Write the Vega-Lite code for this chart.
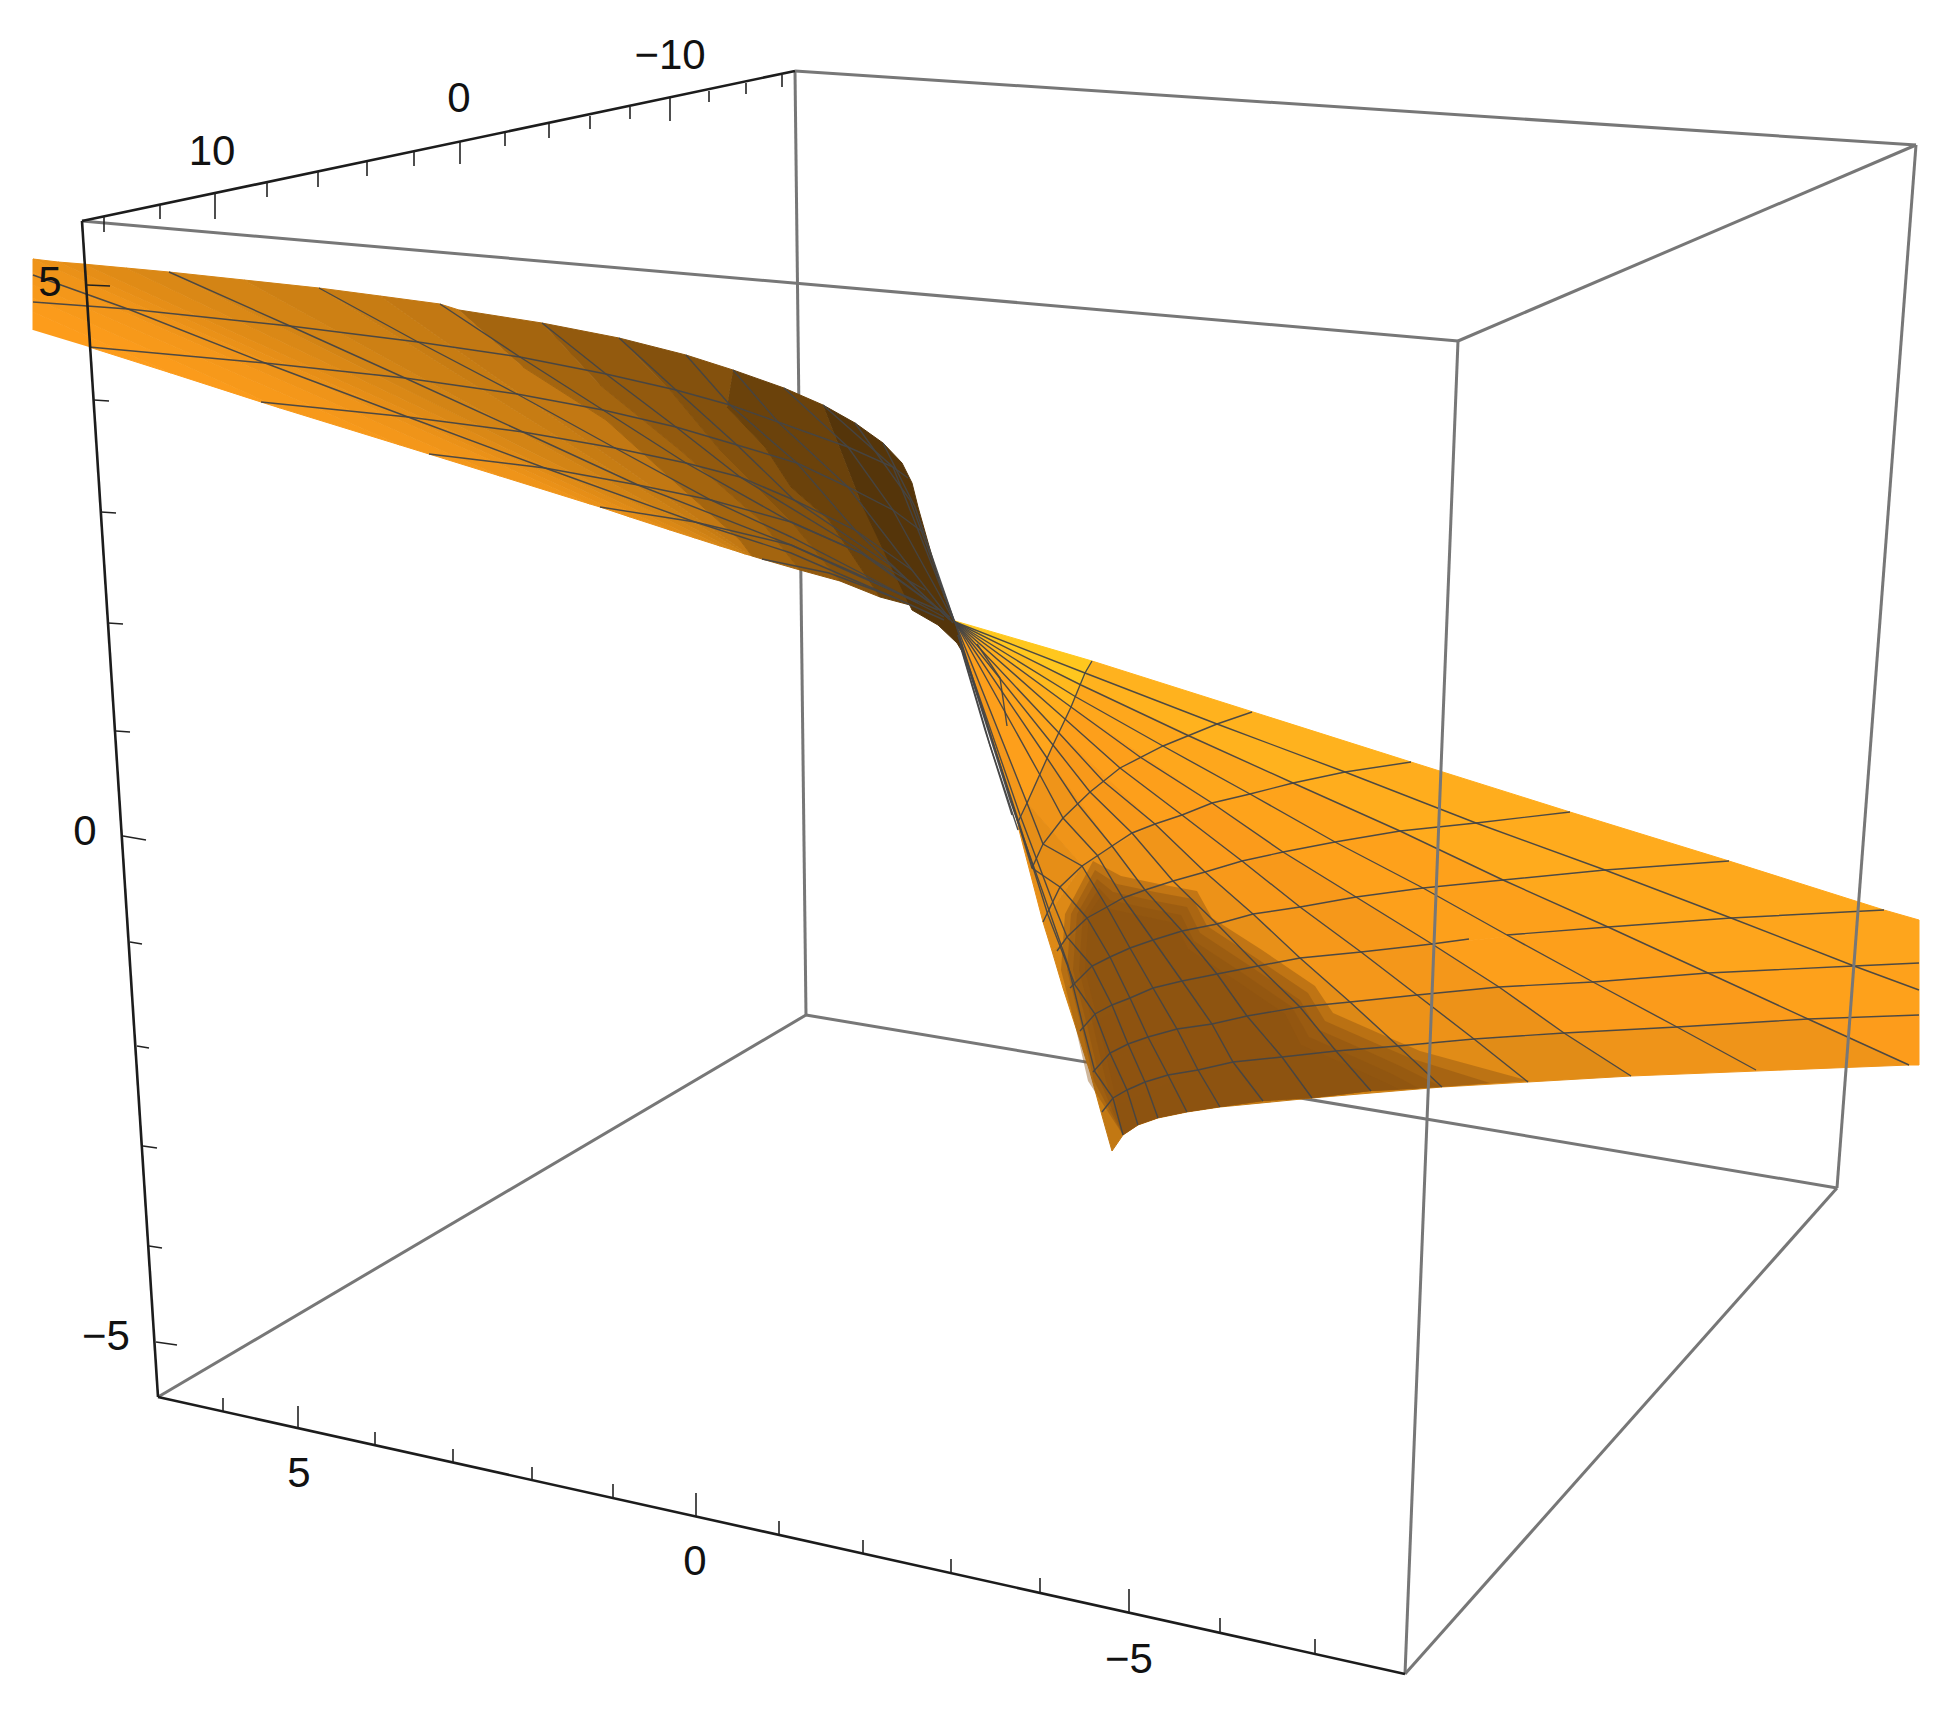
{"$schema":"https://vega.github.io/schema/vega-lite/v6.json","width":1956,"height":1716,"padding":0,"autosize":{"type":"fit","contains":"padding"},"background":"white","config":{"view":{"stroke":null}},
"datasets":{
"box":[{"g":"back","h":795,"v":71,"h2":806,"v2":1015},{"g":"back","h":806,"v":1015,"h2":1837,"v2":1188},{"g":"back","h":806,"v":1015,"h2":158,"v2":1397},
{"g":"front","h":795,"v":71,"h2":1916,"v2":145},{"g":"front","h":1916,"v":145,"h2":1458,"v2":341},{"g":"front","h":1458,"v":341,"h2":82,"v2":221},{"g":"front","h":1458,"v":341,"h2":1405,"v2":1674},{"g":"front","h":1916,"v":145,"h2":1837,"v2":1188},{"g":"front","h":1837,"v":1188,"h2":1405,"v2":1674}],
"axes":[{"h":82,"v":221,"h2":795,"v2":71},{"h":82,"v":221,"h2":158,"v2":1397},{"h":158,"v":1397,"h2":1405,"v2":1674}],
"ticks":[{"h":104,"v":217,"h2":104,"v2":232},{"h":160,"v":205,"h2":160,"v2":219},{"h":215,"v":193,"h2":215,"v2":219},{"h":267,"v":182,"h2":267,"v2":197},{"h":318,"v":172,"h2":318,"v2":187},{"h":367,"v":162,"h2":367,"v2":176},{"h":414,"v":152,"h2":414,"v2":166},{"h":460,"v":142,"h2":460,"v2":164},{"h":505,"v":133,"h2":505,"v2":146},{"h":549,"v":124,"h2":549,"v2":138},{"h":590,"v":116,"h2":590,"v2":129},{"h":630,"v":107,"h2":630,"v2":119},{"h":670,"v":98,"h2":670,"v2":121},{"h":709,"v":91,"h2":709,"v2":102},{"h":746,"v":83,"h2":746,"v2":94},{"h":782,"v":75,"h2":782,"v2":87},
{"h":87,"v":285,"h2":110,"v2":286},{"h":94,"v":400,"h2":109,"v2":401},{"h":101,"v":512,"h2":116,"v2":513},{"h":108,"v":623,"h2":123,"v2":624},{"h":116,"v":731,"h2":130,"v2":732},{"h":123,"v":836,"h2":146,"v2":840},{"h":130,"v":942,"h2":142,"v2":944},{"h":137,"v":1046,"h2":149,"v2":1048},{"h":143,"v":1146,"h2":157,"v2":1148},{"h":149,"v":1246,"h2":162,"v2":1248},{"h":156,"v":1342,"h2":177,"v2":1345},
{"h":223,"v":1411,"h2":223,"v2":1398},{"h":298,"v":1428,"h2":298,"v2":1406},{"h":375,"v":1444,"h2":375,"v2":1432},{"h":453,"v":1462,"h2":453,"v2":1449},{"h":532,"v":1480,"h2":532,"v2":1467},{"h":613,"v":1498,"h2":613,"v2":1484},{"h":696,"v":1516,"h2":696,"v2":1493},{"h":779,"v":1534,"h2":779,"v2":1521},{"h":863,"v":1553,"h2":863,"v2":1540},{"h":951,"v":1573,"h2":951,"v2":1559},{"h":1040,"v":1592,"h2":1040,"v2":1578},{"h":1129,"v":1612,"h2":1129,"v2":1589},{"h":1220,"v":1633,"h2":1220,"v2":1618},{"h":1315,"v":1654,"h2":1315,"v2":1639}],
"labels":[{"t":"10","h":212,"v":152},{"t":"0","h":459,"v":99},{"t":"−10","h":670,"v":56},{"t":"5","h":50,"v":283},{"t":"0","h":85,"v":832},{"t":"−5","h":106,"v":1337},{"t":"5","h":299,"v":1474},{"t":"0","h":695,"v":1562},{"t":"−5","h":1129,"v":1660}],
"shadow":[
{"p":"d","o":1,"h":1093,"v":861},{"p":"d","o":2,"h":1121,"v":876},{"p":"d","o":3,"h":1159,"v":884},{"p":"d","o":4,"h":1197,"v":891},{"p":"d","o":5,"h":1212,"v":918},{"p":"d","o":6,"h":1262,"v":950},{"p":"d","o":7,"h":1315,"v":986},{"p":"d","o":8,"h":1333,"v":1013},{"p":"d","o":9,"h":1383,"v":1035},{"p":"d","o":10,"h":1420,"v":1051},{"p":"d","o":11,"h":1530,"v":1081},{"p":"d","o":12,"h":1442,"v":1087},{"p":"d","o":13,"h":1371,"v":1091},{"p":"d","o":14,"h":1313,"v":1098},{"p":"d","o":15,"h":1263,"v":1101},{"p":"d","o":16,"h":1220,"v":1107},{"p":"d","o":17,"h":1187,"v":1112},{"p":"d","o":18,"h":1158,"v":1118},{"p":"d","o":19,"h":1138,"v":1125},{"p":"d","o":20,"h":1123,"v":1135},{"p":"d","o":21,"h":1088,"v":1081},{"p":"d","o":22,"h":1075,"v":1025},{"p":"d","o":23,"h":1061,"v":970},{"p":"d","o":24,"h":1065,"v":914},
{"p":"a","o":1,"h":1095,"v":870},{"p":"a","o":2,"h":1117,"v":884},{"p":"a","o":3,"h":1155,"v":892},{"p":"a","o":4,"h":1193,"v":899},{"p":"a","o":5,"h":1207,"v":926},{"p":"a","o":6,"h":1256,"v":958},{"p":"a","o":7,"h":1308,"v":993},{"p":"a","o":8,"h":1325,"v":1021},{"p":"a","o":9,"h":1375,"v":1043},{"p":"a","o":10,"h":1410,"v":1058},{"p":"a","o":11,"h":1490,"v":1083},{"p":"a","o":12,"h":1442,"v":1087},{"p":"a","o":13,"h":1371,"v":1091},{"p":"a","o":14,"h":1313,"v":1098},{"p":"a","o":15,"h":1263,"v":1101},{"p":"a","o":16,"h":1220,"v":1107},{"p":"a","o":17,"h":1187,"v":1112},{"p":"a","o":18,"h":1158,"v":1118},{"p":"a","o":19,"h":1138,"v":1125},{"p":"a","o":20,"h":1123,"v":1135},{"p":"a","o":21,"h":1094,"v":1081},{"p":"a","o":22,"h":1081,"v":1025},{"p":"a","o":23,"h":1067,"v":970},{"p":"a","o":24,"h":1071,"v":914},
{"p":"b","o":1,"h":1097,"v":879},{"p":"b","o":2,"h":1113,"v":892},{"p":"b","o":3,"h":1150,"v":900},{"p":"b","o":4,"h":1187,"v":907},{"p":"b","o":5,"h":1200,"v":933},{"p":"b","o":6,"h":1250,"v":966},{"p":"b","o":7,"h":1300,"v":1000},{"p":"b","o":8,"h":1317,"v":1029},{"p":"b","o":9,"h":1367,"v":1051},{"p":"b","o":10,"h":1400,"v":1066},{"p":"b","o":11,"h":1442,"v":1087},{"p":"b","o":12,"h":1371,"v":1091},{"p":"b","o":13,"h":1313,"v":1098},{"p":"b","o":14,"h":1263,"v":1101},{"p":"b","o":15,"h":1220,"v":1107},{"p":"b","o":16,"h":1187,"v":1112},{"p":"b","o":17,"h":1158,"v":1118},{"p":"b","o":18,"h":1138,"v":1125},{"p":"b","o":19,"h":1123,"v":1135},{"p":"b","o":20,"h":1100,"v":1081},{"p":"b","o":21,"h":1087,"v":1025},{"p":"b","o":22,"h":1073,"v":970},{"p":"b","o":23,"h":1077,"v":914},
{"p":"c","o":1,"h":1099,"v":888},{"p":"c","o":2,"h":1110,"v":900},{"p":"c","o":3,"h":1146,"v":908},{"p":"c","o":4,"h":1181,"v":915},{"p":"c","o":5,"h":1194,"v":941},{"p":"c","o":6,"h":1244,"v":974},{"p":"c","o":7,"h":1292,"v":1007},{"p":"c","o":8,"h":1309,"v":1037},{"p":"c","o":9,"h":1359,"v":1059},{"p":"c","o":10,"h":1392,"v":1074},{"p":"c","o":11,"h":1420,"v":1089},{"p":"c","o":12,"h":1371,"v":1091},{"p":"c","o":13,"h":1313,"v":1098},{"p":"c","o":14,"h":1263,"v":1101},{"p":"c","o":15,"h":1220,"v":1107},{"p":"c","o":16,"h":1187,"v":1112},{"p":"c","o":17,"h":1158,"v":1118},{"p":"c","o":18,"h":1138,"v":1125},{"p":"c","o":19,"h":1123,"v":1135},{"p":"c","o":20,"h":1106,"v":1081},{"p":"c","o":21,"h":1093,"v":1025},{"p":"c","o":22,"h":1079,"v":970},{"p":"c","o":23,"h":1083,"v":914},
{"p":"e","o":1,"h":1101,"v":896},{"p":"e","o":2,"h":1106,"v":908},{"p":"e","o":3,"h":1142,"v":916},{"p":"e","o":4,"h":1175,"v":923},{"p":"e","o":5,"h":1188,"v":949},{"p":"e","o":6,"h":1238,"v":982},{"p":"e","o":7,"h":1285,"v":1014},{"p":"e","o":8,"h":1301,"v":1045},{"p":"e","o":9,"h":1351,"v":1067},{"p":"e","o":10,"h":1384,"v":1082},{"p":"e","o":11,"h":1400,"v":1090},{"p":"e","o":12,"h":1371,"v":1091},{"p":"e","o":13,"h":1313,"v":1098},{"p":"e","o":14,"h":1263,"v":1101},{"p":"e","o":15,"h":1220,"v":1107},{"p":"e","o":16,"h":1187,"v":1112},{"p":"e","o":17,"h":1158,"v":1118},{"p":"e","o":18,"h":1138,"v":1125},{"p":"e","o":19,"h":1123,"v":1135},{"p":"e","o":20,"h":1112,"v":1081},{"p":"e","o":21,"h":1099,"v":1025},{"p":"e","o":22,"h":1085,"v":970},{"p":"e","o":23,"h":1089,"v":914}],
"surface":[
{"p":"U01","o":1,"h":33,"v":330,"s":1},{"p":"U01","o":2,"h":33,"v":312,"s":1},{"p":"U01","o":3,"h":171,"v":373,"s":1},{"p":"U01","o":4,"h":89,"v":347,"s":1},
{"p":"U02a","o":1,"h":33,"v":312,"s":0.99},{"p":"U02a","o":2,"h":33,"v":298,"s":0.99},{"p":"U02a","o":3,"h":280,"v":408,"s":0.99},{"p":"U02a","o":4,"h":261,"v":402,"s":0.99},{"p":"U02a","o":5,"h":171,"v":373,"s":0.99},
{"p":"U02b","o":1,"h":33,"v":298,"s":0.975},{"p":"U02b","o":2,"h":33,"v":285,"s":0.975},{"p":"U02b","o":3,"h":400,"v":445,"s":0.975},{"p":"U02b","o":4,"h":280,"v":408,"s":0.975},
{"p":"U03a","o":1,"h":33,"v":285,"s":0.96},{"p":"U03a","o":2,"h":33,"v":272,"s":0.96},{"p":"U03a","o":3,"h":500,"v":476,"s":0.96},{"p":"U03a","o":4,"h":429,"v":454,"s":0.96},{"p":"U03a","o":5,"h":400,"v":445,"s":0.96},
{"p":"U03b","o":1,"h":33,"v":272,"s":0.94},{"p":"U03b","o":2,"h":33,"v":259,"s":0.94},{"p":"U03b","o":3,"h":590,"v":504,"s":0.94},{"p":"U03b","o":4,"h":500,"v":476,"s":0.94},
{"p":"U04a","o":1,"h":33,"v":259,"s":0.92},{"p":"U04a","o":2,"h":58,"v":262,"s":0.92},{"p":"U04a","o":3,"h":630,"v":517,"s":0.92},{"p":"U04a","o":4,"h":600,"v":507,"s":0.92},{"p":"U04a","o":5,"h":590,"v":504,"s":0.92},
{"p":"U04b","o":1,"h":58,"v":262,"s":0.9},{"p":"U04b","o":2,"h":83,"v":264,"s":0.9},{"p":"U04b","o":3,"h":670,"v":530,"s":0.9},{"p":"U04b","o":4,"h":630,"v":517,"s":0.9},
{"p":"U05a","o":1,"h":83,"v":264,"s":0.875},{"p":"U05a","o":2,"h":126,"v":268,"s":0.875},{"p":"U05a","o":3,"h":695,"v":538,"s":0.875},{"p":"U05a","o":4,"h":670,"v":530,"s":0.875},
{"p":"U05b","o":1,"h":126,"v":268,"s":0.85},{"p":"U05b","o":2,"h":169,"v":272,"s":0.85},{"p":"U05b","o":3,"h":720,"v":546,"s":0.85},{"p":"U05b","o":4,"h":695,"v":538,"s":0.85},
{"p":"U06a","o":1,"h":169,"v":272,"s":0.82},{"p":"U06a","o":2,"h":244,"v":280,"s":0.82},{"p":"U06a","o":3,"h":733,"v":550,"s":0.82},{"p":"U06a","o":4,"h":720,"v":546,"s":0.82},
{"p":"U06b","o":1,"h":244,"v":280,"s":0.79},{"p":"U06b","o":2,"h":319,"v":288,"s":0.79},{"p":"U06b","o":3,"h":745,"v":554,"s":0.79},{"p":"U06b","o":4,"h":733,"v":550,"s":0.79},
{"p":"U07a","o":1,"h":319,"v":288,"s":0.765},{"p":"U07a","o":2,"h":380,"v":296,"s":0.765},{"p":"U07a","o":3,"h":749,"v":555,"s":0.765},{"p":"U07a","o":4,"h":745,"v":554,"s":0.765},
{"p":"U07b","o":1,"h":380,"v":296,"s":0.74},{"p":"U07b","o":2,"h":440,"v":304,"s":0.74},{"p":"U07b","o":3,"h":459,"v":310,"s":0.74},{"p":"U07b","o":4,"h":523,"v":367,"s":0.74},{"p":"U07b","o":5,"h":606,"v":420,"s":0.74},{"p":"U07b","o":6,"h":676,"v":483,"s":0.74},{"p":"U07b","o":7,"h":740,"v":540,"s":0.74},{"p":"U07b","o":8,"h":752,"v":556,"s":0.74},{"p":"U07b","o":9,"h":749,"v":555,"s":0.74},
{"p":"U08","o":1,"h":459,"v":310,"s":0.6},{"p":"U08","o":2,"h":542,"v":323,"s":0.6},{"p":"U08","o":3,"h":600,"v":385,"s":0.6},{"p":"U08","o":4,"h":680,"v":450,"s":0.6},{"p":"U08","o":5,"h":760,"v":520,"s":0.6},{"p":"U08","o":6,"h":800,"v":570,"s":0.6},{"p":"U08","o":7,"h":762,"v":559,"s":0.6},{"p":"U08","o":8,"h":752,"v":556,"s":0.6},{"p":"U08","o":9,"h":740,"v":540,"s":0.6},{"p":"U08","o":10,"h":676,"v":483,"s":0.6},{"p":"U08","o":11,"h":606,"v":420,"s":0.6},{"p":"U08","o":12,"h":523,"v":367,"s":0.6},
{"p":"U09","o":1,"h":542,"v":323,"s":0.52},{"p":"U09","o":2,"h":619,"v":338,"s":0.52},{"p":"U09","o":3,"h":670,"v":390,"s":0.52},{"p":"U09","o":4,"h":720,"v":450,"s":0.52},{"p":"U09","o":5,"h":790,"v":520,"s":0.52},{"p":"U09","o":6,"h":840,"v":581,"s":0.52},{"p":"U09","o":7,"h":829,"v":578,"s":0.52},{"p":"U09","o":8,"h":800,"v":570,"s":0.52},{"p":"U09","o":9,"h":760,"v":520,"s":0.52},{"p":"U09","o":10,"h":680,"v":450,"s":0.52},{"p":"U09","o":11,"h":600,"v":385,"s":0.52},
{"p":"U10","o":1,"h":619,"v":338,"s":0.45},{"p":"U10","o":2,"h":686,"v":355,"s":0.45},{"p":"U10","o":3,"h":733,"v":370,"s":0.45},{"p":"U10","o":4,"h":727,"v":407,"s":0.45},{"p":"U10","o":5,"h":765,"v":447,"s":0.45},{"p":"U10","o":6,"h":791,"v":487,"s":0.45},{"p":"U10","o":7,"h":829,"v":520,"s":0.45},{"p":"U10","o":8,"h":880,"v":597,"s":0.45},{"p":"U10","o":9,"h":840,"v":581,"s":0.45},{"p":"U10","o":10,"h":790,"v":520,"s":0.45},{"p":"U10","o":11,"h":720,"v":450,"s":0.45},{"p":"U10","o":12,"h":670,"v":390,"s":0.45},
{"p":"U11","o":1,"h":733,"v":370,"s":0.33},{"p":"U11","o":2,"h":784,"v":388,"s":0.33},{"p":"U11","o":3,"h":823,"v":405,"s":0.33},{"p":"U11","o":4,"h":860,"v":500,"s":0.33},{"p":"U11","o":5,"h":910,"v":605,"s":0.33},{"p":"U11","o":6,"h":880,"v":597,"s":0.33},{"p":"U11","o":7,"h":829,"v":520,"s":0.33},{"p":"U11","o":8,"h":791,"v":487,"s":0.33},{"p":"U11","o":9,"h":765,"v":447,"s":0.33},{"p":"U11","o":10,"h":727,"v":407,"s":0.33},
{"p":"U12","o":1,"h":823,"v":405,"s":0.23},{"p":"U12","o":2,"h":855,"v":423,"s":0.23},{"p":"U12","o":3,"h":883,"v":443,"s":0.23},{"p":"U12","o":4,"h":902,"v":463,"s":0.23},{"p":"U12","o":5,"h":912,"v":483,"s":0.23},{"p":"U12","o":6,"h":918,"v":507,"s":0.23},{"p":"U12","o":7,"h":931,"v":553,"s":0.23},{"p":"U12","o":8,"h":944,"v":597,"s":0.23},{"p":"U12","o":9,"h":955,"v":623,"s":0.23},{"p":"U12","o":10,"h":969,"v":663,"s":0.23},{"p":"U12","o":11,"h":957,"v":643,"s":0.23},{"p":"U12","o":12,"h":938,"v":625,"s":0.23},{"p":"U12","o":13,"h":912,"v":610,"s":0.23},{"p":"U12","o":14,"h":860,"v":500,"s":0.23},
{"p":"C0","o":1,"h":955,"v":621,"s":1.26},{"p":"C0","o":2,"h":1092,"v":661,"s":1.26},{"p":"C0","o":3,"h":1081,"v":685,"s":1.26},
{"p":"C1","o":1,"h":955,"v":621,"s":1.19},{"p":"C1","o":2,"h":1081,"v":685,"s":1.19},{"p":"C1","o":3,"h":1071,"v":707,"s":1.19},
{"p":"C2","o":1,"h":955,"v":621,"s":1.13},{"p":"C2","o":2,"h":1071,"v":707,"s":1.13},{"p":"C2","o":3,"h":1059,"v":733,"s":1.13},
{"p":"C3","o":1,"h":955,"v":621,"s":1.07},{"p":"C3","o":2,"h":1059,"v":733,"s":1.07},{"p":"C3","o":3,"h":1047,"v":758,"s":1.07},
{"p":"C4","o":1,"h":955,"v":621,"s":1.02},{"p":"C4","o":2,"h":1047,"v":758,"s":1.02},{"p":"C4","o":3,"h":1027,"v":803,"s":1.02},
{"p":"C5","o":1,"h":955,"v":621,"s":0.96},{"p":"C5","o":2,"h":1027,"v":803,"s":0.96},{"p":"C5","o":3,"h":1018,"v":826,"s":0.96},
{"p":"A0","o":1,"h":1092,"v":661,"s":1.16},{"p":"A0","o":2,"h":1411,"v":762,"s":1.16},{"p":"A0","o":3,"h":1293,"v":783,"s":1.16},{"p":"A0","o":4,"h":1081,"v":685,"s":1.16},
{"p":"A1","o":1,"h":1081,"v":685,"s":1.08},{"p":"A1","o":2,"h":1293,"v":783,"s":1.08},{"p":"A1","o":3,"h":1212,"v":803,"s":1.08},{"p":"A1","o":4,"h":1071,"v":707,"s":1.08},
{"p":"A2","o":1,"h":1071,"v":707,"s":1.02},{"p":"A2","o":2,"h":1212,"v":803,"s":1.02},{"p":"A2","o":3,"h":1155,"v":824,"s":1.02},{"p":"A2","o":4,"h":1059,"v":733,"s":1.02},
{"p":"A3","o":1,"h":1059,"v":733,"s":0.98},{"p":"A3","o":2,"h":1155,"v":824,"s":0.98},{"p":"A3","o":3,"h":1112,"v":846,"s":0.98},{"p":"A3","o":4,"h":1047,"v":758,"s":0.98},
{"p":"A4","o":1,"h":1047,"v":758,"s":0.94},{"p":"A4","o":2,"h":1112,"v":846,"s":0.94},{"p":"A4","o":3,"h":1082,"v":866,"s":0.94},{"p":"A4","o":4,"h":1027,"v":803,"s":0.94},
{"p":"A5","o":1,"h":1027,"v":803,"s":0.9},{"p":"A5","o":2,"h":1082,"v":866,"s":0.9},{"p":"A5","o":3,"h":1043,"v":922,"s":0.9},{"p":"A5","o":4,"h":1018,"v":826,"s":0.9},
{"p":"K0","o":1,"h":1411,"v":762,"s":1.13},{"p":"K0","o":2,"h":1570,"v":812,"s":1.13},{"p":"K0","o":3,"h":1400,"v":831,"s":1.13},{"p":"K0","o":4,"h":1293,"v":783,"s":1.13},
{"p":"K1","o":1,"h":1293,"v":783,"s":1.05},{"p":"K1","o":2,"h":1400,"v":831,"s":1.05},{"p":"K1","o":3,"h":1283,"v":852,"s":1.05},{"p":"K1","o":4,"h":1212,"v":803,"s":1.05},
{"p":"K2","o":1,"h":1212,"v":803,"s":0.99},{"p":"K2","o":2,"h":1283,"v":852,"s":0.99},{"p":"K2","o":3,"h":1205,"v":872,"s":0.99},{"p":"K2","o":4,"h":1155,"v":824,"s":0.99},
{"p":"K3","o":1,"h":1155,"v":824,"s":0.95},{"p":"K3","o":2,"h":1205,"v":872,"s":0.95},{"p":"K3","o":3,"h":1145,"v":890,"s":0.95},{"p":"K3","o":4,"h":1112,"v":846,"s":0.95},
{"p":"K4","o":1,"h":1112,"v":846,"s":0.9},{"p":"K4","o":2,"h":1145,"v":890,"s":0.9},{"p":"K4","o":3,"h":1107,"v":907,"s":0.9},{"p":"K4","o":4,"h":1082,"v":866,"s":0.9},
{"p":"K5","o":1,"h":1082,"v":866,"s":0.86},{"p":"K5","o":2,"h":1107,"v":907,"s":0.86},{"p":"K5","o":3,"h":1052,"v":951,"s":0.86},{"p":"K5","o":4,"h":1043,"v":922,"s":0.86},
{"p":"D0","o":1,"h":1570,"v":812,"s":1.11},{"p":"D0","o":2,"h":1729,"v":861,"s":1.11},{"p":"D0","o":3,"h":1503,"v":880,"s":1.11},{"p":"D0","o":4,"h":1400,"v":831,"s":1.11},
{"p":"D1","o":1,"h":1400,"v":831,"s":1.04},{"p":"D1","o":2,"h":1503,"v":880,"s":1.04},{"p":"D1","o":3,"h":1356,"v":897,"s":1.04},{"p":"D1","o":4,"h":1283,"v":852,"s":1.04},
{"p":"D2","o":1,"h":1283,"v":852,"s":0.98},{"p":"D2","o":2,"h":1356,"v":897,"s":0.98},{"p":"D2","o":3,"h":1253,"v":914,"s":0.98},{"p":"D2","o":4,"h":1205,"v":872,"s":0.98},
{"p":"D3","o":1,"h":1205,"v":872,"s":0.93},{"p":"D3","o":2,"h":1253,"v":914,"s":0.93},{"p":"D3","o":3,"h":1182,"v":931,"s":0.93},{"p":"D3","o":4,"h":1145,"v":890,"s":0.93},
{"p":"D4","o":1,"h":1145,"v":890,"s":0.87},{"p":"D4","o":2,"h":1182,"v":931,"s":0.87},{"p":"D4","o":3,"h":1130,"v":948,"s":0.87},{"p":"D4","o":4,"h":1107,"v":907,"s":0.87},
{"p":"D5","o":1,"h":1107,"v":907,"s":0.83},{"p":"D5","o":2,"h":1130,"v":948,"s":0.83},{"p":"D5","o":3,"h":1063,"v":988,"s":0.83},{"p":"D5","o":4,"h":1052,"v":951,"s":0.83},
{"p":"E0","o":1,"h":1729,"v":861,"s":1.09},{"p":"E0","o":2,"h":1884,"v":910,"s":1.09},{"p":"E0","o":3,"h":1608,"v":927,"s":1.09},{"p":"E0","o":4,"h":1503,"v":880,"s":1.09},
{"p":"E1","o":1,"h":1503,"v":880,"s":1.03},{"p":"E1","o":2,"h":1608,"v":927,"s":1.03},{"p":"E1","o":3,"h":1432,"v":944,"s":1.03},{"p":"E1","o":4,"h":1356,"v":897,"s":1.03},
{"p":"E2","o":1,"h":1356,"v":897,"s":0.97},{"p":"E2","o":2,"h":1432,"v":944,"s":0.97},{"p":"E2","o":3,"h":1300,"v":958,"s":0.97},{"p":"E2","o":4,"h":1253,"v":914,"s":0.97},
{"p":"E3","o":1,"h":1253,"v":914,"s":0.91},{"p":"E3","o":2,"h":1300,"v":958,"s":0.91},{"p":"E3","o":3,"h":1217,"v":974,"s":0.91},{"p":"E3","o":4,"h":1182,"v":931,"s":0.91},
{"p":"E4","o":1,"h":1182,"v":931,"s":0.85},{"p":"E4","o":2,"h":1217,"v":974,"s":0.85},{"p":"E4","o":3,"h":1153,"v":988,"s":0.85},{"p":"E4","o":4,"h":1130,"v":948,"s":0.85},
{"p":"E5","o":1,"h":1130,"v":948,"s":0.81},{"p":"E5","o":2,"h":1153,"v":988,"s":0.81},{"p":"E5","o":3,"h":1077,"v":1031,"s":0.81},{"p":"E5","o":4,"h":1063,"v":988,"s":0.81},
{"p":"F0","o":1,"h":1884,"v":910,"s":1.07},{"p":"F0","o":2,"h":1919,"v":920,"s":1.07},{"p":"F0","o":3,"h":1919,"v":963,"s":1.07},{"p":"F0","o":4,"h":1708,"v":973,"s":1.07},{"p":"F0","o":5,"h":1608,"v":927,"s":1.07},
{"p":"F1","o":1,"h":1608,"v":927,"s":1.02},{"p":"F1","o":2,"h":1708,"v":973,"s":1.02},{"p":"F1","o":3,"h":1499,"v":987,"s":1.02},{"p":"F1","o":4,"h":1432,"v":944,"s":1.02},
{"p":"F2","o":1,"h":1432,"v":944,"s":0.96},{"p":"F2","o":2,"h":1499,"v":987,"s":0.96},{"p":"F2","o":3,"h":1350,"v":1002,"s":0.96},{"p":"F2","o":4,"h":1300,"v":958,"s":0.96},
{"p":"F3","o":1,"h":1300,"v":958,"s":0.9},{"p":"F3","o":2,"h":1350,"v":1002,"s":0.9},{"p":"F3","o":3,"h":1247,"v":1016,"s":0.9},{"p":"F3","o":4,"h":1217,"v":974,"s":0.9},
{"p":"F4","o":1,"h":1217,"v":974,"s":0.82},{"p":"F4","o":2,"h":1247,"v":1016,"s":0.82},{"p":"F4","o":3,"h":1177,"v":1029,"s":0.82},{"p":"F4","o":4,"h":1153,"v":988,"s":0.82},
{"p":"F5","o":1,"h":1153,"v":988,"s":0.79},{"p":"F5","o":2,"h":1177,"v":1029,"s":0.79},{"p":"F5","o":3,"h":1090,"v":1072,"s":0.79},{"p":"F5","o":4,"h":1077,"v":1031,"s":0.79},
{"p":"G0","o":1,"h":1919,"v":963,"s":1.04},{"p":"G0","o":2,"h":1919,"v":1015,"s":1.04},{"p":"G0","o":3,"h":1808,"v":1019,"s":1.04},{"p":"G0","o":4,"h":1708,"v":973,"s":1.04},
{"p":"G1","o":1,"h":1708,"v":973,"s":0.99},{"p":"G1","o":2,"h":1808,"v":1019,"s":0.99},{"p":"G1","o":3,"h":1564,"v":1033,"s":0.99},{"p":"G1","o":4,"h":1499,"v":987,"s":0.99},
{"p":"G2","o":1,"h":1499,"v":987,"s":0.93},{"p":"G2","o":2,"h":1564,"v":1033,"s":0.93},{"p":"G2","o":3,"h":1398,"v":1046,"s":0.93},{"p":"G2","o":4,"h":1350,"v":1002,"s":0.93},
{"p":"G3","o":1,"h":1350,"v":1002,"s":0.86},{"p":"G3","o":2,"h":1398,"v":1046,"s":0.86},{"p":"G3","o":3,"h":1282,"v":1057,"s":0.86},{"p":"G3","o":4,"h":1247,"v":1016,"s":0.86},
{"p":"G4","o":1,"h":1247,"v":1016,"s":0.79},{"p":"G4","o":2,"h":1282,"v":1057,"s":0.79},{"p":"G4","o":3,"h":1198,"v":1070,"s":0.79},{"p":"G4","o":4,"h":1177,"v":1029,"s":0.79},
{"p":"G5","o":1,"h":1177,"v":1029,"s":0.77},{"p":"G5","o":2,"h":1198,"v":1070,"s":0.77},{"p":"G5","o":3,"h":1101,"v":1112,"s":0.77},{"p":"G5","o":4,"h":1090,"v":1072,"s":0.77},
{"p":"H0","o":1,"h":1919,"v":1015,"s":1},{"p":"H0","o":2,"h":1919,"v":1065,"s":1},{"p":"H0","o":3,"h":1909,"v":1065,"s":1},{"p":"H0","o":4,"h":1808,"v":1019,"s":1},
{"p":"H1","o":1,"h":1808,"v":1019,"s":0.94},{"p":"H1","o":2,"h":1909,"v":1065,"s":0.94},{"p":"H1","o":3,"h":1631,"v":1076,"s":0.94},{"p":"H1","o":4,"h":1564,"v":1033,"s":0.94},
{"p":"H2","o":1,"h":1564,"v":1033,"s":0.88},{"p":"H2","o":2,"h":1631,"v":1076,"s":0.88},{"p":"H2","o":3,"h":1442,"v":1087,"s":0.88},{"p":"H2","o":4,"h":1398,"v":1046,"s":0.88},
{"p":"H3","o":1,"h":1398,"v":1046,"s":0.8},{"p":"H3","o":2,"h":1442,"v":1087,"s":0.8},{"p":"H3","o":3,"h":1312,"v":1098,"s":0.8},{"p":"H3","o":4,"h":1282,"v":1057,"s":0.8},
{"p":"H4","o":1,"h":1282,"v":1057,"s":0.74},{"p":"H4","o":2,"h":1312,"v":1098,"s":0.74},{"p":"H4","o":3,"h":1220,"v":1107,"s":0.74},{"p":"H4","o":4,"h":1198,"v":1070,"s":0.74},
{"p":"H5","o":1,"h":1198,"v":1070,"s":0.74},{"p":"H5","o":2,"h":1220,"v":1107,"s":0.74},{"p":"H5","o":3,"h":1187,"v":1112,"s":0.74},{"p":"H5","o":4,"h":1158,"v":1118,"s":0.74},{"p":"H5","o":5,"h":1138,"v":1125,"s":0.74},{"p":"H5","o":6,"h":1123,"v":1135,"s":0.74},{"p":"H5","o":7,"h":1112,"v":1151,"s":0.74},{"p":"H5","o":8,"h":1101,"v":1112,"s":0.74}],
"mesh":[
{"m":"B1","o":1,"h":33,"v":302},{"m":"B1","o":2,"h":128,"v":309},{"m":"B1","o":3,"h":290,"v":326},{"m":"B1","o":4,"h":418,"v":342},{"m":"B1","o":5,"h":520,"v":357},{"m":"B1","o":6,"h":606,"v":374},{"m":"B1","o":7,"h":676,"v":390},{"m":"B1","o":8,"h":730,"v":405},{"m":"B1","o":9,"h":778,"v":422},{"m":"B1","o":10,"h":848,"v":447},{"m":"B1","o":11,"h":893,"v":467},{"m":"B1","o":12,"h":908,"v":478},
{"m":"B2","o":1,"h":89,"v":347},{"m":"B2","o":2,"h":265,"v":363},{"m":"B2","o":3,"h":405,"v":378},{"m":"B2","o":4,"h":517,"v":394},{"m":"B2","o":5,"h":603,"v":410},{"m":"B2","o":6,"h":676,"v":427},{"m":"B2","o":7,"h":737,"v":445},{"m":"B2","o":8,"h":797,"v":463},{"m":"B2","o":9,"h":848,"v":487},{"m":"B2","o":10,"h":893,"v":510},{"m":"B2","o":11,"h":924,"v":533},
{"m":"B3","o":1,"h":261,"v":402},{"m":"B3","o":2,"h":408,"v":417},{"m":"B3","o":3,"h":523,"v":432},{"m":"B3","o":4,"h":615,"v":448},{"m":"B3","o":5,"h":686,"v":463},{"m":"B3","o":6,"h":740,"v":477},{"m":"B3","o":7,"h":794,"v":500},{"m":"B3","o":8,"h":855,"v":530},{"m":"B3","o":9,"h":912,"v":570},
{"m":"B4","o":1,"h":429,"v":454},{"m":"B4","o":2,"h":545,"v":468},{"m":"B4","o":3,"h":638,"v":485},{"m":"B4","o":4,"h":711,"v":500},{"m":"B4","o":5,"h":791,"v":522},{"m":"B4","o":6,"h":861,"v":553},{"m":"B4","o":7,"h":925,"v":590},
{"m":"B5","o":1,"h":600,"v":507},{"m":"B5","o":2,"h":695,"v":522},{"m":"B5","o":3,"h":791,"v":545},{"m":"B5","o":4,"h":855,"v":573},{"m":"B5","o":5,"h":918,"v":603},
{"m":"B6","o":1,"h":762,"v":559},{"m":"B6","o":2,"h":829,"v":573},{"m":"B6","o":3,"h":893,"v":597},{"m":"B6","o":4,"h":944,"v":620},
{"m":"a0","o":1,"h":33,"v":275},{"m":"a0","o":2,"h":128,"v":309},{"m":"a0","o":3,"h":265,"v":363},{"m":"a0","o":4,"h":408,"v":417},{"m":"a0","o":5,"h":545,"v":468},{"m":"a0","o":6,"h":695,"v":522},{"m":"a0","o":7,"h":791,"v":553},{"m":"a0","o":8,"h":893,"v":597},
{"m":"a1","o":1,"h":169,"v":272},{"m":"a1","o":2,"h":290,"v":326},{"m":"a1","o":3,"h":405,"v":378},{"m":"a1","o":4,"h":523,"v":432},{"m":"a1","o":5,"h":638,"v":485},{"m":"a1","o":6,"h":791,"v":545},{"m":"a1","o":7,"h":861,"v":577},{"m":"a1","o":8,"h":938,"v":610},
{"m":"a2","o":1,"h":319,"v":288},{"m":"a2","o":2,"h":418,"v":342},{"m":"a2","o":3,"h":517,"v":394},{"m":"a2","o":4,"h":615,"v":448},{"m":"a2","o":5,"h":711,"v":500},{"m":"a2","o":6,"h":791,"v":537},{"m":"a2","o":7,"h":861,"v":573},{"m":"a2","o":8,"h":944,"v":617},
{"m":"a3","o":1,"h":440,"v":304},{"m":"a3","o":2,"h":520,"v":357},{"m":"a3","o":3,"h":603,"v":410},{"m":"a3","o":4,"h":686,"v":463},{"m":"a3","o":5,"h":791,"v":522},{"m":"a3","o":6,"h":861,"v":553},{"m":"a3","o":7,"h":944,"v":613},
{"m":"a4","o":1,"h":542,"v":323},{"m":"a4","o":2,"h":606,"v":374},{"m":"a4","o":3,"h":676,"v":427},{"m":"a4","o":4,"h":740,"v":477},{"m":"a4","o":5,"h":855,"v":547},{"m":"a4","o":6,"h":950,"v":617},
{"m":"a5","o":1,"h":619,"v":338},{"m":"a5","o":2,"h":676,"v":390},{"m":"a5","o":3,"h":737,"v":445},{"m":"a5","o":4,"h":794,"v":500},{"m":"a5","o":5,"h":893,"v":567},{"m":"a5","o":6,"h":950,"v":620},
{"m":"a6","o":1,"h":686,"v":355},{"m":"a6","o":2,"h":730,"v":405},{"m":"a6","o":3,"h":797,"v":463},{"m":"a6","o":4,"h":855,"v":530},{"m":"a6","o":5,"h":950,"v":620},
{"m":"a7","o":1,"h":733,"v":370},{"m":"a7","o":2,"h":778,"v":422},{"m":"a7","o":3,"h":848,"v":487},{"m":"a7","o":4,"h":912,"v":570},{"m":"a7","o":5,"h":953,"v":623},
{"m":"a8","o":1,"h":784,"v":388},{"m":"a8","o":2,"h":848,"v":447},{"m":"a8","o":3,"h":893,"v":510},{"m":"a8","o":4,"h":955,"v":623},
{"m":"a9","o":1,"h":823,"v":405},{"m":"a9","o":2,"h":893,"v":467},{"m":"a9","o":3,"h":955,"v":623},
{"m":"a10","o":1,"h":855,"v":423},{"m":"a10","o":2,"h":910,"v":500},{"m":"a10","o":3,"h":955,"v":623},
{"m":"a11","o":1,"h":883,"v":443},{"m":"a11","o":2,"h":915,"v":507},{"m":"a11","o":3,"h":955,"v":623},
{"m":"L1","o":1,"h":955,"v":622},{"m":"L1","o":2,"h":1085,"v":673},{"m":"L1","o":3,"h":1217,"v":724},{"m":"L1","o":4,"h":1345,"v":772},{"m":"L1","o":5,"h":1476,"v":823},{"m":"L1","o":6,"h":1605,"v":870},{"m":"L1","o":7,"h":1731,"v":918},{"m":"L1","o":8,"h":1854,"v":966},{"m":"L1","o":9,"h":1919,"v":990},
{"m":"L2","o":1,"h":955,"v":622},{"m":"L2","o":2,"h":1081,"v":685},{"m":"L2","o":3,"h":1187,"v":735},{"m":"L2","o":4,"h":1293,"v":783},{"m":"L2","o":5,"h":1400,"v":831},{"m":"L2","o":6,"h":1503,"v":880},{"m":"L2","o":7,"h":1608,"v":927},{"m":"L2","o":8,"h":1708,"v":973},{"m":"L2","o":9,"h":1808,"v":1019},{"m":"L2","o":10,"h":1909,"v":1065},
{"m":"L3","o":1,"h":955,"v":622},{"m":"L3","o":2,"h":1076,"v":697},{"m":"L3","o":3,"h":1163,"v":746},{"m":"L3","o":4,"h":1250,"v":794},{"m":"L3","o":5,"h":1335,"v":842},{"m":"L3","o":6,"h":1423,"v":888},{"m":"L3","o":7,"h":1507,"v":935},{"m":"L3","o":8,"h":1593,"v":982},{"m":"L3","o":9,"h":1677,"v":1027},{"m":"L3","o":10,"h":1756,"v":1070},
{"m":"L4","o":1,"h":955,"v":622},{"m":"L4","o":2,"h":1071,"v":707},{"m":"L4","o":3,"h":1140,"v":757},{"m":"L4","o":4,"h":1212,"v":803},{"m":"L4","o":5,"h":1283,"v":852},{"m":"L4","o":6,"h":1356,"v":897},{"m":"L4","o":7,"h":1432,"v":944},{"m":"L4","o":8,"h":1499,"v":987},{"m":"L4","o":9,"h":1564,"v":1033},{"m":"L4","o":10,"h":1631,"v":1076},
{"m":"L5","o":1,"h":955,"v":622},{"m":"L5","o":2,"h":1065,"v":719},{"m":"L5","o":3,"h":1120,"v":768},{"m":"L5","o":4,"h":1182,"v":815},{"m":"L5","o":5,"h":1242,"v":861},{"m":"L5","o":6,"h":1300,"v":907},{"m":"L5","o":7,"h":1361,"v":952},{"m":"L5","o":8,"h":1417,"v":995},{"m":"L5","o":9,"h":1474,"v":1039},{"m":"L5","o":10,"h":1528,"v":1082},
{"m":"L6","o":1,"h":955,"v":622},{"m":"L6","o":2,"h":1059,"v":733},{"m":"L6","o":3,"h":1103,"v":781},{"m":"L6","o":4,"h":1155,"v":824},{"m":"L6","o":5,"h":1205,"v":872},{"m":"L6","o":6,"h":1253,"v":914},{"m":"L6","o":7,"h":1300,"v":958},{"m":"L6","o":8,"h":1350,"v":1002},{"m":"L6","o":9,"h":1398,"v":1046},{"m":"L6","o":10,"h":1442,"v":1087},
{"m":"L7","o":1,"h":955,"v":622},{"m":"L7","o":2,"h":1053,"v":745},{"m":"L7","o":3,"h":1090,"v":792},{"m":"L7","o":4,"h":1132,"v":833},{"m":"L7","o":5,"h":1173,"v":881},{"m":"L7","o":6,"h":1217,"v":924},{"m":"L7","o":7,"h":1258,"v":966},{"m":"L7","o":8,"h":1300,"v":1007},{"m":"L7","o":9,"h":1336,"v":1051},{"m":"L7","o":10,"h":1371,"v":1091},
{"m":"L8","o":1,"h":955,"v":622},{"m":"L8","o":2,"h":1047,"v":758},{"m":"L8","o":3,"h":1077,"v":803},{"m":"L8","o":4,"h":1112,"v":846},{"m":"L8","o":5,"h":1145,"v":890},{"m":"L8","o":6,"h":1182,"v":931},{"m":"L8","o":7,"h":1217,"v":974},{"m":"L8","o":8,"h":1247,"v":1016},{"m":"L8","o":9,"h":1282,"v":1057},{"m":"L8","o":10,"h":1312,"v":1098},
{"m":"L9","o":1,"h":955,"v":622},{"m":"L9","o":2,"h":1040,"v":775},{"m":"L9","o":3,"h":1063,"v":818},{"m":"L9","o":4,"h":1097,"v":855},{"m":"L9","o":5,"h":1123,"v":898},{"m":"L9","o":6,"h":1153,"v":940},{"m":"L9","o":7,"h":1182,"v":981},{"m":"L9","o":8,"h":1212,"v":1024},{"m":"L9","o":9,"h":1233,"v":1062},{"m":"L9","o":10,"h":1263,"v":1101},
{"m":"L10","o":1,"h":955,"v":622},{"m":"L10","o":2,"h":1027,"v":803},{"m":"L10","o":3,"h":1043,"v":844},{"m":"L10","o":4,"h":1082,"v":866},{"m":"L10","o":5,"h":1107,"v":907},{"m":"L10","o":6,"h":1130,"v":948},{"m":"L10","o":7,"h":1153,"v":988},{"m":"L10","o":8,"h":1177,"v":1029},{"m":"L10","o":9,"h":1198,"v":1070},{"m":"L10","o":10,"h":1220,"v":1107},
{"m":"L11","o":1,"h":955,"v":622},{"m":"L11","o":2,"h":1018,"v":822},{"m":"L11","o":3,"h":1032,"v":868},{"m":"L11","o":4,"h":1060,"v":887},{"m":"L11","o":5,"h":1087,"v":918},{"m":"L11","o":6,"h":1110,"v":957},{"m":"L11","o":7,"h":1130,"v":998},{"m":"L11","o":8,"h":1148,"v":1037},{"m":"L11","o":9,"h":1168,"v":1075},{"m":"L11","o":10,"h":1187,"v":1112},
{"m":"L12","o":1,"h":958,"v":635},{"m":"L12","o":2,"h":1020,"v":815},{"m":"L12","o":3,"h":1052,"v":900},{"m":"L12","o":4,"h":1067,"v":937},{"m":"L12","o":5,"h":1092,"v":966},{"m":"L12","o":6,"h":1112,"v":1005},{"m":"L12","o":7,"h":1128,"v":1044},{"m":"L12","o":8,"h":1145,"v":1082},{"m":"L12","o":9,"h":1158,"v":1118},
{"m":"L13","o":1,"h":958,"v":635},{"m":"L13","o":2,"h":1015,"v":810},{"m":"L13","o":3,"h":1048,"v":915},{"m":"L13","o":4,"h":1075,"v":985},{"m":"L13","o":5,"h":1095,"v":1014},{"m":"L13","o":6,"h":1110,"v":1053},{"m":"L13","o":7,"h":1127,"v":1090},{"m":"L13","o":8,"h":1138,"v":1125},
{"m":"L14","o":1,"h":958,"v":635},{"m":"L14","o":2,"h":1010,"v":800},{"m":"L14","o":3,"h":1042,"v":890},{"m":"L14","o":4,"h":1068,"v":965},{"m":"L14","o":5,"h":1084,"v":1030},{"m":"L14","o":6,"h":1095,"v":1072},{"m":"L14","o":7,"h":1113,"v":1098},{"m":"L14","o":8,"h":1123,"v":1135},
{"m":"L15","o":1,"h":960,"v":645},{"m":"L15","o":2,"h":985,"v":730},{"m":"L15","o":3,"h":1012,"v":815},
{"m":"L16","o":1,"h":962,"v":650},{"m":"L16","o":2,"h":990,"v":745},{"m":"L16","o":3,"h":1018,"v":830},
{"m":"r0","o":1,"h":977,"v":644},{"m":"r0","o":2,"h":1000,"v":678},{"m":"r0","o":3,"h":1007,"v":726},
{"m":"ra","o":1,"h":1092,"v":661},{"m":"ra","o":2,"h":1085,"v":673},{"m":"ra","o":3,"h":1071,"v":707},{"m":"ra","o":4,"h":1053,"v":745},{"m":"ra","o":5,"h":1027,"v":803},{"m":"ra","o":6,"h":1018,"v":822},
{"m":"rb","o":1,"h":1252,"v":712},{"m":"rb","o":2,"h":1217,"v":724},{"m":"rb","o":3,"h":1163,"v":746},{"m":"rb","o":4,"h":1120,"v":768},{"m":"rb","o":5,"h":1090,"v":792},{"m":"rb","o":6,"h":1063,"v":818},{"m":"rb","o":7,"h":1043,"v":844},{"m":"rb","o":8,"h":1032,"v":868},
{"m":"rc","o":1,"h":1411,"v":762},{"m":"rc","o":2,"h":1345,"v":772},{"m":"rc","o":3,"h":1293,"v":783},{"m":"rc","o":4,"h":1250,"v":794},{"m":"rc","o":5,"h":1212,"v":803},{"m":"rc","o":6,"h":1182,"v":815},{"m":"rc","o":7,"h":1155,"v":824},{"m":"rc","o":8,"h":1132,"v":833},{"m":"rc","o":9,"h":1112,"v":846},{"m":"rc","o":10,"h":1082,"v":866},{"m":"rc","o":11,"h":1060,"v":887},{"m":"rc","o":12,"h":1043,"v":922},
{"m":"rd","o":1,"h":1570,"v":812},{"m":"rd","o":2,"h":1476,"v":823},{"m":"rd","o":3,"h":1400,"v":831},{"m":"rd","o":4,"h":1335,"v":842},{"m":"rd","o":5,"h":1283,"v":852},{"m":"rd","o":6,"h":1242,"v":861},{"m":"rd","o":7,"h":1205,"v":872},{"m":"rd","o":8,"h":1173,"v":881},{"m":"rd","o":9,"h":1145,"v":890},{"m":"rd","o":10,"h":1123,"v":898},{"m":"rd","o":11,"h":1107,"v":907},{"m":"rd","o":12,"h":1087,"v":918},{"m":"rd","o":13,"h":1067,"v":937},{"m":"rd","o":14,"h":1057,"v":951},
{"m":"re","o":1,"h":1729,"v":861},{"m":"re","o":2,"h":1605,"v":870},{"m":"re","o":3,"h":1503,"v":880},{"m":"re","o":4,"h":1423,"v":888},{"m":"re","o":5,"h":1356,"v":897},{"m":"re","o":6,"h":1300,"v":907},{"m":"re","o":7,"h":1253,"v":914},{"m":"re","o":8,"h":1217,"v":924},{"m":"re","o":9,"h":1182,"v":931},{"m":"re","o":10,"h":1153,"v":940},{"m":"re","o":11,"h":1130,"v":948},{"m":"re","o":12,"h":1110,"v":957},{"m":"re","o":13,"h":1092,"v":966},{"m":"re","o":14,"h":1070,"v":988},
{"m":"rf1","o":1,"h":1884,"v":910},{"m":"rf1","o":2,"h":1731,"v":918},{"m":"rf1","o":3,"h":1608,"v":927},{"m":"rf1","o":4,"h":1507,"v":935},
{"m":"rf2","o":1,"h":1469,"v":939},{"m":"rf2","o":2,"h":1432,"v":944},{"m":"rf2","o":3,"h":1361,"v":952},{"m":"rf2","o":4,"h":1300,"v":958},{"m":"rf2","o":5,"h":1258,"v":966},{"m":"rf2","o":6,"h":1217,"v":974},{"m":"rf2","o":7,"h":1182,"v":981},{"m":"rf2","o":8,"h":1153,"v":988},{"m":"rf2","o":9,"h":1130,"v":998},{"m":"rf2","o":10,"h":1112,"v":1005},{"m":"rf2","o":11,"h":1095,"v":1014},{"m":"rf2","o":12,"h":1080,"v":1031},
{"m":"rg","o":1,"h":1919,"v":963},{"m":"rg","o":2,"h":1854,"v":966},{"m":"rg","o":3,"h":1708,"v":973},{"m":"rg","o":4,"h":1593,"v":982},{"m":"rg","o":5,"h":1499,"v":987},{"m":"rg","o":6,"h":1417,"v":995},{"m":"rg","o":7,"h":1350,"v":1002},{"m":"rg","o":8,"h":1300,"v":1007},{"m":"rg","o":9,"h":1247,"v":1016},{"m":"rg","o":10,"h":1212,"v":1024},{"m":"rg","o":11,"h":1177,"v":1029},{"m":"rg","o":12,"h":1148,"v":1037},{"m":"rg","o":13,"h":1128,"v":1044},{"m":"rg","o":14,"h":1110,"v":1053},{"m":"rg","o":15,"h":1093,"v":1072},
{"m":"rh","o":1,"h":1919,"v":1015},{"m":"rh","o":2,"h":1808,"v":1019},{"m":"rh","o":3,"h":1677,"v":1027},{"m":"rh","o":4,"h":1564,"v":1033},{"m":"rh","o":5,"h":1474,"v":1039},{"m":"rh","o":6,"h":1398,"v":1046},{"m":"rh","o":7,"h":1336,"v":1051},{"m":"rh","o":8,"h":1282,"v":1057},{"m":"rh","o":9,"h":1233,"v":1062},{"m":"rh","o":10,"h":1198,"v":1070},{"m":"rh","o":11,"h":1168,"v":1075},{"m":"rh","o":12,"h":1145,"v":1082},{"m":"rh","o":13,"h":1127,"v":1090},{"m":"rh","o":14,"h":1113,"v":1098},{"m":"rh","o":15,"h":1102,"v":1112}]
},
"encoding":{"x":{"field":"h","type":"quantitative","axis":null,"scale":{"domain":[0,1956],"nice":false,"zero":false}},"y":{"field":"v","type":"quantitative","axis":null,"scale":{"domain":[1716,0],"nice":false,"zero":false}}},
"layer":[
{"data":{"name":"box"},"transform":[{"filter":"datum.g==='back'"}],"mark":{"type":"rule","stroke":"#777777","strokeWidth":3},"encoding":{"x2":{"field":"h2"},"y2":{"field":"v2"}}},
{"data":{"name":"surface"},"mark":{"type":"line","strokeWidth":1,"interpolate":"linear"},"encoding":{"detail":{"field":"p"},"order":{"field":"o","type":"quantitative"},"fill":{"field":"s","type":"quantitative","legend":null,"scale":{"domain":[0,0.2,0.4,0.6,0.8,1,1.15,1.3],"range":["#2e1d06","#4f3109","#7a4b0c","#a4650f","#cf8114","#fd9c1b","#ffb01e","#ffd020"]}},"stroke":{"field":"s","type":"quantitative","legend":null,"scale":{"domain":[0,0.2,0.4,0.6,0.8,1,1.15,1.3],"range":["#2e1d06","#4f3109","#7a4b0c","#a4650f","#cf8114","#fd9c1b","#ffb01e","#ffd020"]}}}},
{"data":{"name":"shadow"},"mark":{"type":"line","fill":"#8a5210","stroke":null,"fillOpacity":0.42,"strokeWidth":0},"encoding":{"detail":{"field":"p"},"order":{"field":"o","type":"quantitative"}}},
{"data":{"name":"mesh"},"mark":{"type":"line","stroke":"#444444","strokeWidth":1.4,"opacity":0.95},"encoding":{"detail":{"field":"m"},"order":{"field":"o","type":"quantitative"}}},
{"data":{"name":"box"},"transform":[{"filter":"datum.g==='front'"}],"mark":{"type":"rule","stroke":"#777777","strokeWidth":3},"encoding":{"x2":{"field":"h2"},"y2":{"field":"v2"}}},
{"data":{"name":"axes"},"mark":{"type":"rule","stroke":"#1c1c1c","strokeWidth":2.6},"encoding":{"x2":{"field":"h2"},"y2":{"field":"v2"}}},
{"data":{"name":"ticks"},"mark":{"type":"rule","stroke":"#222222","strokeWidth":1.6},"encoding":{"x2":{"field":"h2"},"y2":{"field":"v2"}}},
{"data":{"name":"labels"},"mark":{"type":"text","font":"Liberation Sans","fontSize":42,"fill":"#111111","align":"center","baseline":"middle"},"encoding":{"text":{"field":"t","type":"nominal"}}}
]}
